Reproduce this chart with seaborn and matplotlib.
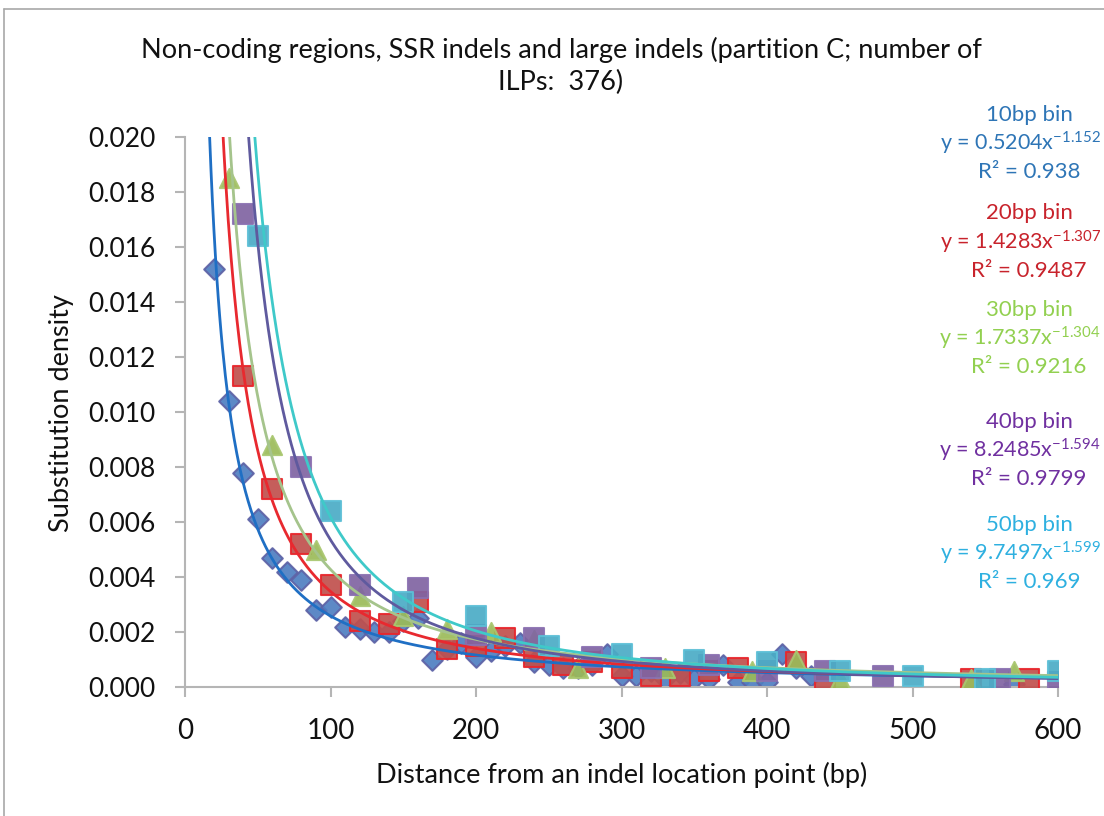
import numpy as np
import matplotlib
matplotlib.use("Agg")
import matplotlib.pyplot as plt
from matplotlib.lines import Line2D
import seaborn as sns

# substitution density per bin
x_10bp = [20, 30, 40, 50, 60, 70, 80, 90, 100, 110, 120, 130, 140, 150, 160, 170, 180, 190,
          200, 210, 220, 230, 240, 250, 260, 270, 280, 290, 300, 310, 320, 330, 340, 350,
          360, 370, 380, 390, 400, 410, 420, 430, 570]
y_10bp = [0.0152, 0.0104, 0.0078, 0.0061, 0.0047, 0.0042, 0.0039, 0.0028, 0.0029, 0.0022,
          0.0021, 0.0020, 0.0020, 0.0024, 0.0025, 0.0010, 0.0014, 0.0016, 0.0011, 0.0013,
          0.0015, 0.0016, 0.0009, 0.0008, 0.0007, 0.0007, 0.0008, 0.0012, 0.0004, 0.0004,
          0.0006, 0.0003, 0.0005, 0.0003, 0.0003, 0.0008, 0.0002, 0.0002, 0.0002, 0.0012,
          0.0007, 0.0004, 0.0001]

x_20bp = [40, 60, 80, 100, 120, 140, 160, 180, 200, 220, 240, 260, 280, 300, 320, 340, 360,
          380, 420, 440, 540, 580]
y_20bp = [0.0113, 0.0072, 0.0052, 0.0037, 0.0024, 0.0023, 0.0031, 0.0014, 0.0015, 0.0018,
          0.0011, 0.0008, 0.0009, 0.0007, 0.0004, 0.0004, 0.0006, 0.0007, 0.0009, 0.0003,
          0.0003, 0.0003]

x_30bp = [30, 60, 90, 120, 150, 180, 210, 240, 270, 330, 390, 420, 450, 540, 570]
y_30bp = [0.0185, 0.0088, 0.0050, 0.0033, 0.0026, 0.0021, 0.0020, 0.0017, 0.0007, 0.0007,
          0.0006, 0.0010, 0.0003, 0.0003, 0.0006]

x_40bp = [40, 80, 120, 160, 200, 240, 280, 320, 360, 400, 440, 480, 560, 600]
y_40bp = [0.0172, 0.0080, 0.0037, 0.0036, 0.0019, 0.0018, 0.0011, 0.0007, 0.0008, 0.0006,
          0.0006, 0.0004, 0.0003, 0.0002]

x_50bp = [50, 100, 150, 200, 250, 300, 350, 400, 450, 500, 550, 600]
y_50bp = [0.0164, 0.0064, 0.0031, 0.0026, 0.0015, 0.0012, 0.0010, 0.0009, 0.0006, 0.0004,
          0.0003, 0.0006]

bin_names = ["10bp bin", "20bp bin", "30bp bin", "40bp bin", "50bp bin"]
# power-law trendlines y = a * x^b, as printed on the chart
fit_a = [0.5204, 1.4283, 1.7337, 8.2485, 9.7497]
fit_b = [-1.152, -1.307, -1.304, -1.594, -1.599]
fit_r2 = ["0.938", "0.9487", "0.9216", "0.9799", "0.969"]

series_x = [x_10bp, x_20bp, x_30bp, x_40bp, x_50bp]
series_y = [y_10bp, y_20bp, y_30bp, y_40bp, y_50bp]

markers = ["D", "s", "^", "s", "s"]
marker_sizes = [110, 200, 190, 200, 200]
fill_colors = ["#4f7fc2", "#c0504d", "#9bbb59", "#8064a2", "#4bacc6"]
edge_colors = ["#5d62a6", "#e8262c", "#a9c770", "#8a70b0", "#5dbfd6"]
line_colors = ["#1f6fc4", "#e8292f", "#a5c48c", "#5f5a9e", "#3fc9c9"]
text_colors = ["#2e75b6", "#c8232c", "#92d050", "#7030a0", "#2eb0e0"]

sns.set_style("white")
plt.rcParams["font.family"] = ["Lato", "DejaVu Sans"]
plt.rcParams["mathtext.fontset"] = "custom"
plt.rcParams["mathtext.rm"] = "Lato"
plt.rcParams["mathtext.default"] = "regular"

W, H = 1104, 816
fig = plt.figure(figsize=(W / 100, H / 100), dpi=100)
ax = fig.add_axes([185 / W, 1 - 687 / H, (1058 - 185) / W, (687 - 137) / H])

for i in range(5):
    sns.scatterplot(x=series_x[i], y=series_y[i], marker=markers[i], s=marker_sizes[i],
                    color=fill_colors[i], edgecolor=edge_colors[i], linewidth=1.5,
                    alpha=0.92, ax=ax, zorder=2 + i)

xs = np.linspace(10, 600, 600)
for i in range(5):
    sns.lineplot(x=xs, y=fit_a[i] * xs ** fit_b[i], color=line_colors[i], linewidth=2.0,
                 ax=ax, zorder=10 + i)

ax.set_xlim(0, 600)
ax.set_ylim(0, 0.020)
ax.set_xticks(range(0, 601, 100))
ax.set_yticks(np.arange(0, 0.0201, 0.002))
ax.yaxis.set_major_formatter(matplotlib.ticker.FormatStrFormatter("%.3f"))
ax.tick_params(axis="both", which="major", direction="out", length=7, width=1.5,
               color="#b5b5b5", labelsize=19, labelcolor="#111111", pad=14)
ax.tick_params(axis="x", labelsize=20, pad=15)
ax.tick_params(left=True, bottom=True)
for side in ["top", "right"]:
    ax.spines[side].set_visible(False)
for side in ["left", "bottom"]:
    ax.spines[side].set_color("#b5b5b5")
    ax.spines[side].set_linewidth(1.5)

fig.text(62 / W, 1 - 413 / H, "Substitution density", rotation=90, ha="center",
         va="center", fontsize=19.5, color="#111111")
fig.text(622 / W, 1 - 775 / H, "Distance from an indel location point (bp)", ha="center",
         va="center", fontsize=19.5, color="#111111")
fig.text(561 / W, 1 - 66 / H,
         "Non-coding regions, SSR indels and large indels (partition C; number of\nILPs:  376)",
         ha="center", va="center", fontsize=19.5, color="#111111", linespacing=1.3)

# trendline labels at the right edge
label_rows = [(115, 143, 172), (213, 242, 271), (310, 338, 367), (422, 450, 479), (525, 553, 582)]
for i in range(5):
    r_name, r_eq, r_r2 = label_rows[i]
    c = text_colors[i]
    fig.text(1029 / W, 1 - r_name / H, bin_names[i], ha="center", va="center",
             fontsize=16, color=c)
    fig.text(1101 / W, 1 - r_eq / H, f"y = {fit_a[i]:.4f}x$^{{{fit_b[i]}}}$", ha="right",
             va="center", fontsize=15.5, color=c)
    fig.text(1029 / W, 1 - r_r2 / H, f"R² = {fit_r2[i]}", ha="center", va="center",
             fontsize=16, color=c)

# outer chart-area border (only left and top edges are inside the crop)
fig.add_artist(Line2D([4 / W, 4 / W], [0, 1 - 9 / H], color="#a8a8a8", linewidth=1.2,
                      transform=fig.transFigure))
fig.add_artist(Line2D([4 / W, 1], [1 - 9 / H, 1 - 9 / H], color="#a8a8a8", linewidth=1.2,
                      transform=fig.transFigure))

fig.savefig("out.png", dpi=100)
plt.close(fig)
